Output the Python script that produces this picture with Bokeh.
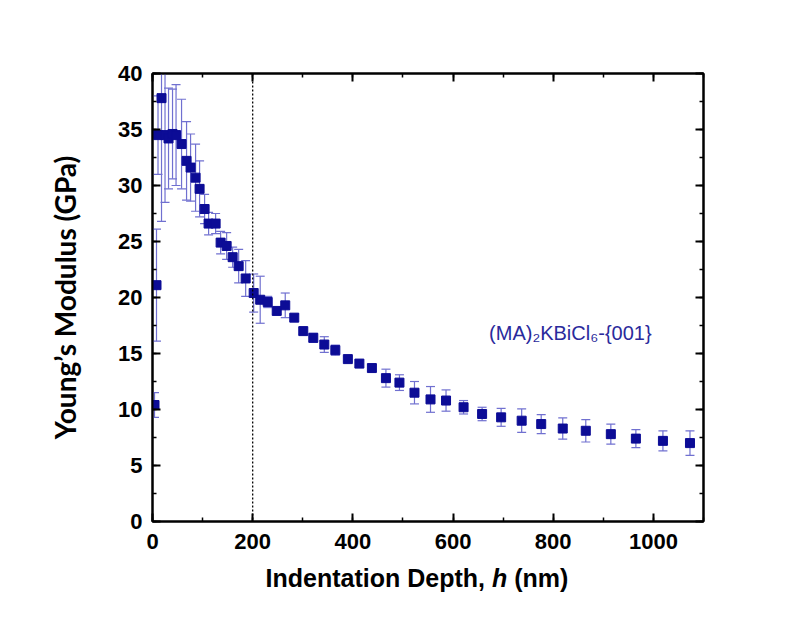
from bokeh.plotting import figure
from bokeh.models import (ColumnDataSource, LinearAxis, SingleIntervalTicker,
                          Range1d, Span, Label, CustomJSTickFormatter, Div)
from bokeh.layouts import column
from bokeh.embed import file_html
from bokeh.resources import INLINE
import numpy as np

# ---- data ----
depth_nm = [4, 8, 11, 18, 25, 32, 40, 47, 58, 68, 76, 86, 94, 104, 112, 126,
            136, 148, 160, 172, 186, 202, 215, 230, 248, 265, 283, 301, 321,
            343, 365, 390, 413, 438, 466, 493, 523, 555, 586, 621, 658, 696,
            737, 776, 819, 865, 915, 965, 1019, 1073]
modulus_gpa = [10.4, 21.1, 34.5, 37.8, 34.5, 34.2, 34.6, 34.5, 33.7, 32.2,
               31.6, 30.7, 29.7, 27.9, 26.6, 26.6, 24.9, 24.6, 23.6, 22.8,
               21.7, 20.4, 19.8, 19.6, 18.8, 19.3, 18.2, 17.0, 16.4, 15.8,
               15.3, 14.5, 14.1, 13.7, 12.8, 12.4, 11.5, 10.9, 10.8, 10.2,
               9.6, 9.3, 9.0, 8.7, 8.3, 8.1, 7.8, 7.4, 7.2, 7.0]
modulus_err = [1.1, 5.0, 3.5, 11.0, 6.0, 4.5, 4.0, 4.5, 4.0, 3.5,
               3.0, 3.0, 2.5, 1.3, 1.0, 0.9, 1.0, 1.2, 0.9, 1.5,
               1.6, 1.7, 2.1, 0.5, 0.3, 1.1, 0.3, 0.3, 0.4, 0.7,
               0.45, 0.2, 0.3, 0.3, 0.8, 0.7, 1.0, 1.15, 0.95, 0.6,
               0.6, 0.8, 1.05, 0.85, 0.95, 1.0, 0.9, 0.8, 0.9, 1.1]

x_ticks_interval = 200
y_ticks_interval = 5
reference_depth = 200
sample_label = "(MA)\u2082KBiCl\u2086-{001}"
sample_label_pos = (672, 16.8)
y_title = "Young\u2019s Modulus (GPa)"

marker_color = "#0c0c96"
err_color = "#7070d0"

x = np.array(depth_nm, dtype=float)
y = np.array(modulus_gpa, dtype=float)
e = np.array(modulus_err, dtype=float)
src = ColumnDataSource(dict(x=x, y=y, lo=y - e, hi=y + e))

p = figure(width=798, height=562, output_backend="svg", toolbar_location=None,
           x_range=Range1d(0, 1100), y_range=Range1d(0, 40),
           min_border_left=152, min_border_right=95,
           min_border_top=73, min_border_bottom=41,
           x_axis_location=None, y_axis_location=None)
p.background_fill_color = "white"
p.border_fill_color = "white"
p.grid.visible = False
p.outline_line_color = "black"
p.outline_line_width = 2

def make_axis(interval, labels):
    ax = LinearAxis(ticker=SingleIntervalTicker(interval=interval, num_minor_ticks=2))
    ax.axis_line_width = 2
    ax.axis_line_color = "black"
    ax.major_tick_in = 8
    ax.major_tick_out = 0
    ax.minor_tick_in = 4
    ax.minor_tick_out = 0
    ax.major_tick_line_width = 2
    ax.minor_tick_line_width = 1.5
    if labels:
        ax.major_label_text_font = "Liberation Sans"
        ax.major_label_text_font_style = "bold"
        ax.major_label_text_font_size = "22px"
        ax.major_label_text_color = "black"
    else:
        ax.formatter = CustomJSTickFormatter(code="return ''")
        ax.major_label_text_font_size = "1px"
    return ax

xb = make_axis(x_ticks_interval, True)
xb.major_label_standoff = 12
yl = make_axis(y_ticks_interval, True)
yl.major_label_standoff = 10
yl.axis_label = y_title
yl.axis_label_text_font = "Lato"
yl.axis_label_text_font_style = "bold"
yl.axis_label_text_font_size = "28px"
yl.axis_label_text_color = "black"
yl.axis_label_standoff = 33
xt = make_axis(x_ticks_interval, False)
yr = make_axis(y_ticks_interval, False)
p.add_layout(xb, "below")
p.add_layout(yl, "left")
p.add_layout(xt, "above")
p.add_layout(yr, "right")

# reference depth line
p.add_layout(Span(location=reference_depth, dimension="height", line_color="black",
                  line_width=1.3, line_dash="2 2"))

# error bars
p.segment(x0="x", y0="lo", x1="x", y1="hi", source=src, line_color=err_color,
          line_width=1.2)
p.scatter("x", "hi", source=src, marker="dash", size=9, line_color=err_color,
          line_width=1.2)
p.scatter("x", "lo", source=src, marker="dash", size=9, line_color=err_color,
          line_width=1.2)
# data points
p.scatter("x", "y", source=src, marker="square", size=9, fill_color=marker_color,
          line_color=marker_color)

# sample annotation
p.add_layout(Label(x=sample_label_pos[0], y=sample_label_pos[1], text=sample_label,
                   text_font="Liberation Sans", text_font_size="20px",
                   text_color="#2a2a9c", text_align="left", text_baseline="alphabetic"))

# x-axis title with italic h (HTML text below the plot)
x_title = Div(
    text="Indentation Depth, <i>h</i> (nm)",
    width=798, height=57,
    styles={"font-family": "Liberation Sans", "font-weight": "bold",
            "font-size": "25px", "color": "black", "text-align": "center",
            "padding-left": "26px", "margin-top": "2px", "line-height": "29px",
            "box-sizing": "border-box", "width": "798px"},
)

layout = column(p, x_title, spacing=0)
open("out.html", "w").write(file_html(layout, INLINE))
